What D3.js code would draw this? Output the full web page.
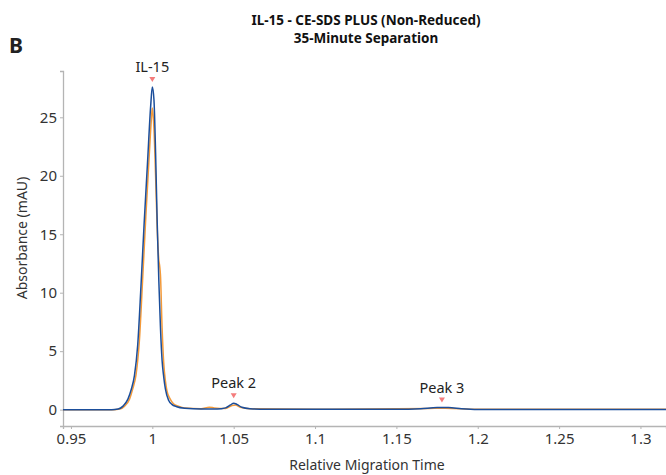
<!DOCTYPE html>
<html>
<head>
<meta charset="utf-8">
<script src="https://cdn.jsdelivr.net/npm/d3@7"></script>
<style>
  body { margin: 0; background: #fff; }
  text { font-family: "Noto Sans", sans-serif; }
</style>
</head>
<body>
<div id="chart"></div>
<script>
// Electropherogram traces [relative migration time, absorbance mAU]
const blueTrace = [
  [0.945, 0], [0.975, 0], [0.979, 0.05], [0.982, 0.3], [0.985, 0.9], [0.987, 1.7],
  [0.989, 2.9], [0.991, 5.5], [0.993, 10.5], [0.995, 16], [0.997, 21], [0.999, 26],
  [1.000, 27.6], [1.001, 26.5], [1.002, 22], [1.003, 16], [1.004, 11], [1.005, 7],
  [1.006, 4.2], [1.007, 2.8], [1.008, 1.8], [1.010, 0.8], [1.012, 0.45], [1.015, 0.25],
  [1.02, 0.12], [1.03, 0.05], [1.04, 0.05], [1.045, 0.15], [1.048, 0.4], [1.050, 0.55],
  [1.052, 0.45], [1.055, 0.2], [1.06, 0.08], [1.07, 0.03], [1.10, 0.03], [1.15, 0.03],
  [1.165, 0.08], [1.175, 0.18], [1.182, 0.18], [1.19, 0.08], [1.2, 0.02], [1.25, 0.02],
  [1.32, 0.02]
]
const orangeTrace = [
  [0.945, 0], [0.976, 0], [0.980, 0.05], [0.983, 0.3], [0.986, 0.9], [0.988, 1.8],
  [0.990, 3], [0.992, 5.8], [0.994, 11], [0.996, 16.5], [0.998, 21.5], [0.9995, 25],
  [1.000, 25.8], [1.001, 24], [1.002, 20], [1.003, 15.5], [1.004, 12.8], [1.0045, 12.3],
  [1.005, 11.5], [1.006, 7], [1.007, 4], [1.008, 2.5], [1.009, 1.6], [1.011, 0.9],
  [1.013, 0.5], [1.016, 0.3], [1.02, 0.15], [1.03, 0.08], [1.035, 0.2], [1.038, 0.15],
  [1.045, 0.1], [1.049, 0.35], [1.051, 0.4], [1.054, 0.2], [1.06, 0.08], [1.1, 0.03],
  [1.17, 0.1], [1.18, 0.12], [1.2, 0.03], [1.32, 0.03]
]
const peakNames = ["IL-15", "Peak 2", "Peak 3"]
const peakTimes = [1.0, 1.05, 1.178]
const peakHeights = [27.6, 0.55, 0.18]
const xTicks = [0.95, 1, 1.05, 1.1, 1.15, 1.2, 1.25, 1.3]
const yTicks = [0, 5, 10, 15, 20, 25]

const width = 666
const height = 475
const margin = { top: 71, right: 0, bottom: 49, left: 63 }

const svg = d3.select('#chart').append('svg')
  .attr('width', width)
  .attr('height', height)

const x = d3.scaleLinear()
  .domain([0.9451, 1.3157])
  .range([margin.left, width - margin.right])

const y = d3.scaleLinear()
  .domain([-1.4, 28.96])
  .range([height - margin.bottom, margin.top])

// panel letter + title
svg.append('text').attr('x', 9).attr('y', 53)
  .attr('font-size', 21).attr('font-weight', 700).attr('fill', '#222').text('B')
svg.append('text').attr('x', 366).attr('y', 25).attr('text-anchor', 'middle')
  .attr('font-size', 13.5).attr('font-weight', 700).attr('fill', '#111')
  .text('IL-15 - CE-SDS PLUS (Non-Reduced)')
svg.append('text').attr('x', 366).attr('y', 43).attr('text-anchor', 'middle')
  .attr('font-size', 13.5).attr('font-weight', 700).attr('fill', '#111')
  .text('35-Minute Separation')

// axes
svg.append('g')
  .attr('transform', `translate(0,${height - margin.bottom})`)
  .call(d3.axisBottom(x).tickValues(xTicks).tickSize(3).tickPadding(4).tickFormat(d3.format('')))
svg.append('g')
  .attr('transform', `translate(${margin.left},0)`)
  .call(d3.axisLeft(y).tickValues(yTicks).tickSize(3).tickPadding(3))

svg.selectAll('.domain').attr('stroke', '#b4b4b4').attr('stroke-width', 1.3)
svg.selectAll('.tick line').attr('stroke', '#b4b4b4')
svg.selectAll('.tick text').attr('font-size', 15).attr('fill', '#333')
  .attr('font-family', '"Noto Sans", sans-serif')

svg.append('text').attr('x', 367).attr('y', 470).attr('text-anchor', 'middle')
  .attr('font-size', 14).attr('fill', '#333').text('Relative Migration Time')
svg.append('text')
  .attr('transform', `translate(27,238) rotate(-90)`)
  .attr('text-anchor', 'middle')
  .attr('font-size', 14).attr('fill', '#333').text('Absorbance (mAU)')

// traces
svg.append('clipPath').attr('id', 'clip').append('rect')
  .attr('x', margin.left).attr('y', margin.top - 20)
  .attr('width', width - margin.left).attr('height', height - margin.top - margin.bottom + 20)

const line = d3.line()
  .x(d => x(d[0]))
  .y(d => y(d[1]))
  .curve(d3.curveMonotoneX)

const plot = svg.append('g').attr('clip-path', 'url(#clip)')
plot.append('path').datum(orangeTrace)
  .attr('d', line).attr('fill', 'none')
  .attr('stroke', '#f39a3a').attr('stroke-width', 1.5)
plot.append('path').datum(blueTrace)
  .attr('d', line).attr('fill', 'none')
  .attr('stroke', '#1b4e9b').attr('stroke-width', 1.5)

// peak markers
const peaks = peakNames.map((name, i) => ({ name, t: peakTimes[i], h: peakHeights[i] }))
const marks = svg.append('g').selectAll('g').data(peaks).enter().append('g')
  .attr('transform', d => `translate(${x(d.t)},${y(d.h) - 7})`)
marks.append('path')
  .attr('d', 'M-3,-3 L3,-3 L0,2 Z')
  .attr('fill', '#f47c7c')
marks.append('text')
  .attr('y', -8).attr('text-anchor', 'middle')
  .attr('font-size', 14.5).attr('fill', '#222')
  .text(d => d.name)
</script>
</body>
</html>
